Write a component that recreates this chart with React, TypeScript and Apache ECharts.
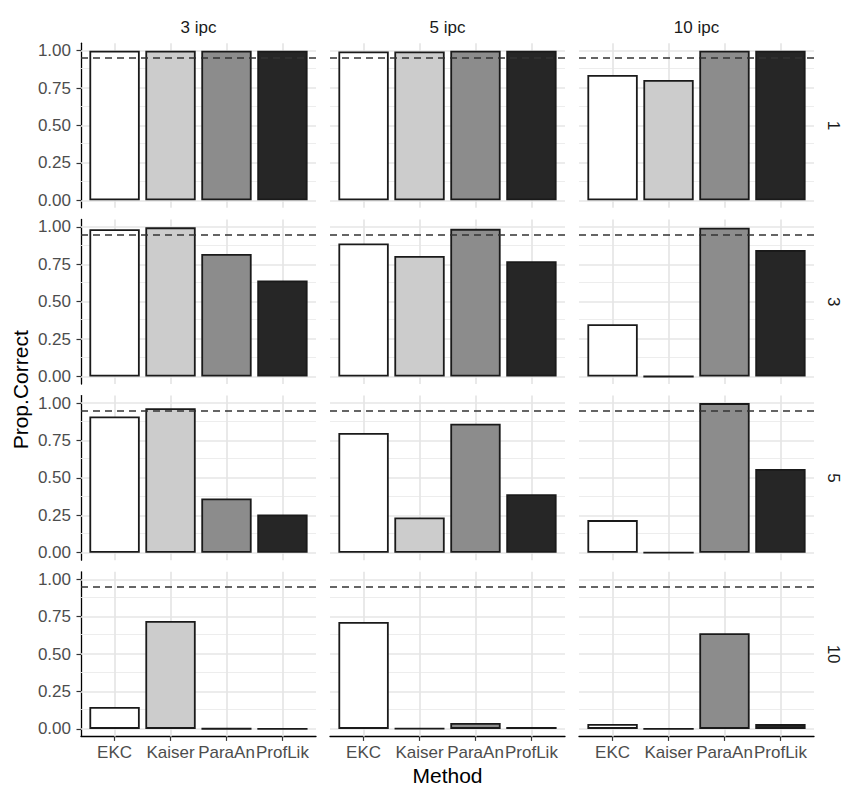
import React, { useEffect, useRef } from "react";
import * as echarts from "echarts";

const methods = ["EKC", "Kaiser", "ParaAn", "ProfLik"];
const ipcLabels = ["3 ipc", "5 ipc", "10 ipc"];
const factorLabels = ["1", "3", "5", "10"];
const fillColors = ["#FFFFFF", "#CCCCCC", "#8C8C8C", "#262626"];
const yTicks = [0, 0.25, 0.5, 0.75, 1];
const yMinor = [0.125, 0.375, 0.625, 0.875];
const refLine = 0.95;

// rows = factors (1, 3, 5, 10), columns = ipc (3, 5, 10)
const f1_ipc3 = [1, 1, 1, 1];
const f1_ipc5 = [0.995, 0.995, 1, 1];
const f1_ipc10 = [0.837, 0.804, 1, 1];
const f3_ipc3 = [0.985, 0.997, 0.819, 0.642];
const f3_ipc5 = [0.889, 0.806, 0.987, 0.77];
const f3_ipc10 = [0.35, 0, 0.995, 0.845];
const f5_ipc3 = [0.911, 0.965, 0.362, 0.256];
const f5_ipc5 = [0.8, 0.236, 0.862, 0.391];
const f5_ipc10 = [0.218, 0, 1, 0.56];
const f10_ipc3 = [0.147, 0.722, 0.002, 0.001];
const f10_ipc5 = [0.715, 0.003, 0.04, 0.013];
const f10_ipc10 = [0.033, 0, 0.64, 0.033];

const panels = [
  [f1_ipc3, f1_ipc5, f1_ipc10],
  [f3_ipc3, f3_ipc5, f3_ipc10],
  [f5_ipc3, f5_ipc5, f5_ipc10],
  [f10_ipc3, f10_ipc5, f10_ipc10],
];

const FONT = "'Liberation Sans', Arial, Helvetica, sans-serif";

export default function App() {
  const ref = useRef<HTMLDivElement>(null);

  useEffect(() => {
    document.body.style.margin = "0";
    if (!ref.current) return;
    const chart = echarts.init(ref.current, null, { renderer: "svg" });

    const colLeft = [81, 330, 579];
    const panelW = 235;
    const top0 = 43.2;
    const rowStep = 176.2;
    const panelH = 164.6;

    const grids: any[] = [];
    const xAxes: any[] = [];
    const yAxes: any[] = [];
    const series: any[] = [];
    const graphics: any[] = [];

    panels.forEach((row, r) => {
      row.forEach((vals, c) => {
        const idx = grids.length;
        grids.push({
          left: colLeft[c],
          top: top0 + r * rowStep,
          width: panelW,
          height: panelH,
          containLabel: false,
        });
        const bottomRow = r === panels.length - 1;
        xAxes.push({
          type: "value",
          gridIndex: idx,
          min: 0.4,
          max: 4.6,
          show: bottomRow,
          splitLine: { show: false },
          axisLine: { show: true, onZero: false, lineStyle: { color: "#000", width: 1.3 } },
          axisTick: {
            show: true,
            customValues: [1, 2, 3, 4],
            length: 4.5,
            lineStyle: { color: "#333", width: 1.2 },
          },
          axisLabel: {
            show: true,
            customValues: [1, 2, 3, 4],
            formatter: (v: number) => methods[Math.round(v) - 1] ?? "",
            color: "#4d4d4d",
            fontSize: 17,
            fontFamily: FONT,
            margin: 8,
          },
        });
        yAxes.push({
          type: "value",
          gridIndex: idx,
          min: -0.05,
          max: 1.05,
          show: c === 0,
          splitLine: { show: false },
          axisLine: { show: true, lineStyle: { color: "#000", width: 1.3 } },
          axisTick: {
            show: true,
            customValues: yTicks,
            length: 4.5,
            lineStyle: { color: "#333", width: 1.2 },
          },
          axisLabel: {
            show: true,
            customValues: yTicks,
            formatter: (v: number) => v.toFixed(2),
            color: "#4d4d4d",
            fontSize: 17,
            fontFamily: FONT,
            margin: 10,
          },
        });

        const gridLines: any[] = [];
        yMinor.forEach((v) =>
          gridLines.push({ yAxis: v, lineStyle: { color: "#ebebeb", width: 0.9, type: "solid" } })
        );
        yTicks.forEach((v) =>
          gridLines.push({ yAxis: v, lineStyle: { color: "#e6e6e6", width: 1.7, type: "solid" } })
        );
        methods.forEach((_, i) =>
          gridLines.push({ xAxis: i + 1, lineStyle: { color: "#e6e6e6", width: 1.7, type: "solid" } })
        );

        series.push({
          type: "line",
          xAxisIndex: idx,
          yAxisIndex: idx,
          data: vals.map((v, i) => [i + 1, v]),
          showSymbol: false,
          silent: true,
          lineStyle: { width: 0, opacity: 0 },
          z: 0,
          markLine: {
            silent: true,
            z: 1,
            symbol: ["none", "none"],
            label: { show: false },
            data: gridLines,
          },
        });

        series.push({
          type: "bar",
          xAxisIndex: idx,
          yAxisIndex: idx,
          barWidth: "90%",
          z: 2,
          data: vals.map((v, i) => ({
            value: [i + 1, v],
            itemStyle: { color: fillColors[i] },
          })),
          itemStyle: { borderColor: "#1a1a1a", borderWidth: 1.8 },
          markLine: {
            silent: true,
            z: 5,
            symbol: ["none", "none"],
            label: { show: false },
            lineStyle: { color: "#333", width: 1.5, type: [7, 5] },
            data: [{ yAxis: refLine }],
          },
        });
      });
    });

    ipcLabels.forEach((lab, c) => {
      graphics.push({
        type: "text",
        x: colLeft[c] + panelW / 2,
        y: 27,
        style: {
          text: lab,
          fill: "#1a1a1a",
          font: `17px ${FONT}`,
          textAlign: "center",
          textVerticalAlign: "middle",
        },
      });
    });
    factorLabels.forEach((lab, r) => {
      graphics.push({
        type: "text",
        x: 833,
        y: top0 + r * rowStep + panelH / 2,
        rotation: -Math.PI / 2,
        style: {
          text: lab,
          fill: "#1a1a1a",
          font: `17px ${FONT}`,
          textAlign: "center",
          textVerticalAlign: "middle",
        },
      });
    });
    graphics.push({
      type: "text",
      x: (colLeft[0] + colLeft[2] + panelW) / 2,
      y: 775,
      style: {
        text: "Method",
        fill: "#000",
        font: `21px ${FONT}`,
        textAlign: "center",
        textVerticalAlign: "middle",
      },
    });
    graphics.push({
      type: "text",
      x: 20,
      y: top0 + (3 * rowStep + panelH) / 2,
      rotation: Math.PI / 2,
      style: {
        text: "Prop.Correct",
        fill: "#000",
        font: `21px ${FONT}`,
        textAlign: "center",
        textVerticalAlign: "middle",
      },
    });

    chart.setOption({
      animation: false,
      backgroundColor: "#ffffff",
      grid: grids,
      xAxis: xAxes,
      yAxis: yAxes,
      series,
      graphic: graphics,
    });

    return () => chart.dispose();
  }, []);

  return <div ref={ref} style={{ width: 861, height: 800 }} />;
}
